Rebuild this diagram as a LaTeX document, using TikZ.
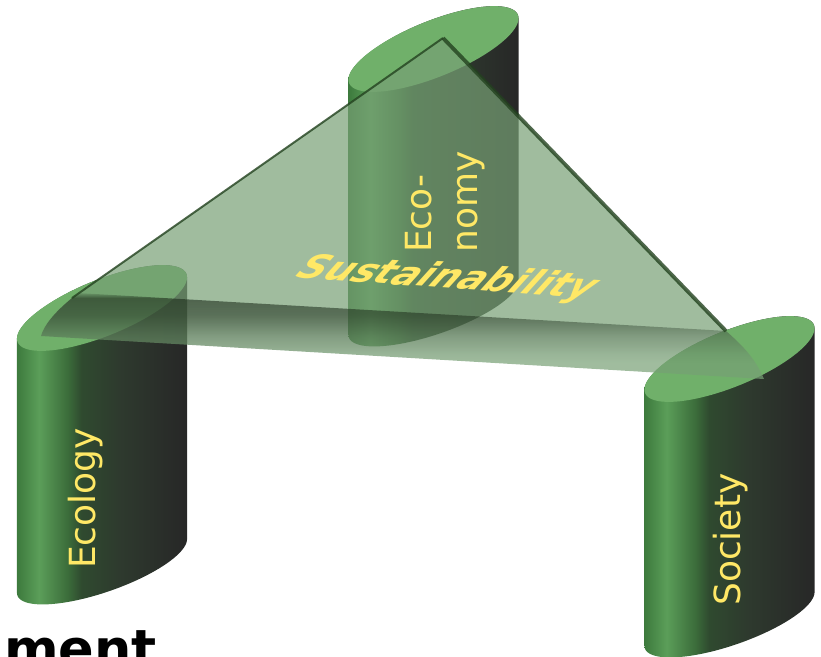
\documentclass[tikz,border=0pt]{standalone}
\usepackage{fontspec}
\setmainfont{DejaVu Sans}
\usetikzlibrary{fadings}
\definecolor{sidea}{HTML}{3D7A3D}
\definecolor{sideb}{HTML}{5B9E59}
\definecolor{sidec}{HTML}{3B6C3A}
\definecolor{sided}{HTML}{2F4A2F}
\definecolor{sidee}{HTML}{2E3A2E}
\definecolor{sidef}{HTML}{272727}
\definecolor{capgreen}{HTML}{70B06A}
\definecolor{planegreen}{HTML}{77A075}
\definecolor{edgegreen}{HTML}{23421F}
\definecolor{banddark}{HTML}{1E2E1C}
\definecolor{labelyellow}{HTML}{FFE866}
\pgfdeclarehorizontalshading{pillarside}{100bp}{
  color(0bp)=(sidea); color(25bp)=(sidea); color(31.5bp)=(sideb);
  color(40bp)=(sidec); color(44bp)=(sided); color(55bp)=(sidee);
  color(75bp)=(sidef); color(100bp)=(sidef)}
\pgfdeclareverticalshading{bandgray}{100bp}{
  color(0bp)=(black); color(25bp)=(black); color(40bp)=(black);
  color(44bp)=(black!92!white); color(52bp)=(black!65!white);
  color(62bp)=(black!15!white); color(70bp)=(white);
  color(73bp)=(black); color(75bp)=(black); color(100bp)=(black)}
\pgfdeclarefading{bandfade}{\pgfuseshading{bandgray}}
\tikzset{
  pillarfill/.style={shading=pillarside},
  capfill/.style={fill=capgreen},
  plane/.style={fill=planegreen,fill opacity=.7},
  planeedge/.style={draw=edgegreen,draw opacity=.8,line join=round},
  pillartext/.style={text=labelyellow,font=\fontsize{36}{46}\selectfont,rotate=90,inner sep=0pt},
}
% #1 cx, #2 cy of the top ellipse, #3 height
\newcommand{\pillarshape}[3]{%
  \shade[pillarfill] plot[domain=187.1:7.1,samples=50,variable=\t]
    ({#1+84.4*cos(\t)+10.5*sin(\t)},{#2+#3+4-30*cos(\t)+24*sin(\t)})
    -- plot[domain=7.1:-172.9,samples=50,variable=\t]
    ({#1+84.4*cos(\t)+10.5*sin(\t)},{#2-34.1*cos(\t)+26*sin(\t)}) -- cycle;
  \fill[capfill] plot[domain=0:360,samples=90,variable=\t]
    ({#1+84.4*cos(\t)+10.5*sin(\t)},{#2-34.1*cos(\t)+26*sin(\t)}) -- cycle;
}
\newcommand{\planeoutline}{(apex) -- (ltop) .. controls (55,312) and (44,325) .. (lcorner)
  -- (rcorner) .. controls (755,358) and (742,345) .. (rtop) -- cycle}
\begin{document}
\begin{tikzpicture}[x=1pt,y=-1pt]
\useasboundingbox (0,0) rectangle (821,656);
\clip (0,0) rectangle (821,656);
\coordinate (apex) at (443,38);
\coordinate (ltop) at (72,298);
\coordinate (lcorner) at (41,336);
\coordinate (rtop) at (726,331);
\coordinate (rcorner) at (764,379);

\pillarshape{102}{308}{254}
\pillarshape{433.5}{49}{255}
\pillarshape{729.5}{359}{256}

% translucent plane
\fill[plane] \planeoutline;

% shaded front band of the plane
\begin{scope}
  \clip \planeoutline;
  \begin{scope}[shift={(402,338)},rotate=-3.35]
    \fill[banddark,fill opacity=.62,path fading=bandfade,fit fading=true]
      (-420,-26) rectangle (420,32);
  \end{scope}
\end{scope}

\draw[planeedge,line width=2pt] (apex) -- (ltop);
\draw[planeedge,line width=3.8pt] (apex) -- (rtop);

\node[pillartext,anchor=west] (ecology) at (86,569) {Ecology};
\node[pillartext,anchor=west] (society) at (731,606) {Society};
\node[pillartext,anchor=south west,align=left] (economy) at (485,253) {Eco-\\nomy};
\node[inner sep=0pt,text=labelyellow,font=\fontsize{36}{40}\selectfont\bfseries\itshape,
  transform shape,cm={1.05,-0.075,0.6,0.9,(447,279)}] (sust) {Sustainability};
\node[anchor=base west,inner sep=0pt,font=\fontsize{52.5}{56}\selectfont\bfseries] (ment) at (4,667) {ment};
\end{tikzpicture}
\end{document}
